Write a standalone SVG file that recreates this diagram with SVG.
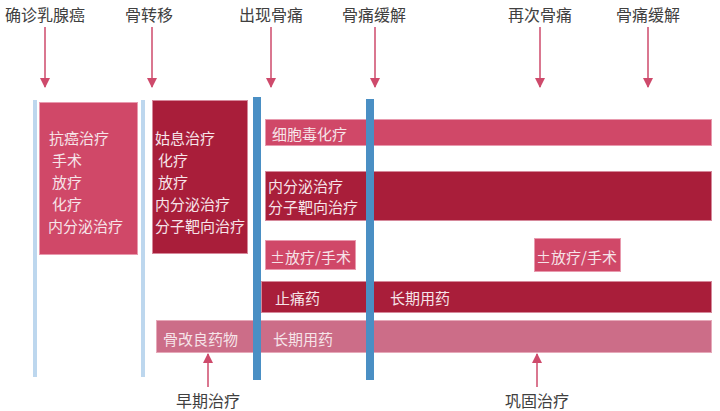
<svg xmlns="http://www.w3.org/2000/svg" width="720" height="411" viewBox="0 0 720 411">
<style>
.lbl{font-family:"Noto Sans CJK SC","Noto Sans",sans-serif;font-size:16px;fill:#404040;text-anchor:middle;dominant-baseline:central}
.bt{font-family:"Noto Sans CJK SC","Noto Sans",sans-serif;font-size:15px;fill:#F6E4E9;dominant-baseline:central}
.pink{fill:#D04868;stroke:#E89AAE;stroke-width:1}
.dark{fill:#A91E3A;stroke:#D6899B;stroke-width:1}
.light{fill:#CC6D88;stroke:#E6A9B9;stroke-width:1}
.lb{fill:#BDD7EE}
.blue{fill:#4A8FC4}
.arr{stroke:#CE4A6B;stroke-width:1.5;fill:none}
</style>
<defs>
<marker id="ah" markerWidth="10" markerHeight="10" refX="9" refY="5" orient="auto" markerUnits="userSpaceOnUse">
<path d="M0,0 L10,5 L0,10 Z" fill="#CE4A6B"/>
</marker>
</defs>
<g id="timeline-labels">
<text class="lbl" x="45" y="14">确诊乳腺癌</text>
<text class="lbl" x="149" y="14">骨转移</text>
<text class="lbl" x="271" y="14">出现骨痛</text>
<text class="lbl" x="374" y="14">骨痛缓解</text>
<text class="lbl" x="540" y="14">再次骨痛</text>
<text class="lbl" x="648" y="14">骨痛缓解</text>
</g>
<g id="bars">
<rect class="lb" x="33" y="100" width="4" height="277"/>
<rect class="lb" x="141" y="100" width="4" height="277"/>
</g>
<g id="box-initial">
<rect class="pink" x="39.5" y="102.5" width="98" height="152"/>
<text class="bt" x="49" y="137">抗癌治疗</text>
<text class="bt" x="52" y="159">手术</text>
<text class="bt" x="52" y="181">放疗</text>
<text class="bt" x="52" y="203">化疗</text>
<text class="bt" x="48" y="225">内分泌治疗</text>
</g>
<g id="box-palliative">
<rect class="dark" x="152.5" y="100.5" width="95" height="153"/>
<text class="bt" x="155" y="137">姑息治疗</text>
<text class="bt" x="158" y="159">化疗</text>
<text class="bt" x="158" y="181">放疗</text>
<text class="bt" x="155" y="203">内分泌治疗</text>
<text class="bt" x="155" y="225">分子靶向治疗</text>
</g>
<g id="row-chemo">
<rect class="pink" x="265.5" y="119.5" width="446" height="26"/>
<text class="bt" x="272" y="133">细胞毒化疗</text>
</g>
<g id="row-endocrine">
<rect class="dark" x="265.5" y="171.5" width="446" height="49"/>
<text class="bt" x="268" y="185">内分泌治疗</text>
<text class="bt" x="268" y="206">分子靶向治疗</text>
</g>
<g id="row-rt1">
<rect class="pink" x="265.5" y="240.5" width="90" height="29"/>
<text class="bt" x="270" y="256">±放疗/手术</text>
</g>
<g id="row-rt2">
<rect class="pink" x="534.5" y="238.5" width="86" height="33"/>
<text class="bt" x="536" y="256">±放疗/手术</text>
</g>
<g id="row-analgesic">
<rect class="dark" x="261.5" y="281.5" width="450" height="31"/>
<text class="bt" x="275" y="297.5">止痛药</text>
<text class="bt" x="390" y="297.5">长期用药</text>
</g>
<g id="row-bone">
<rect class="light" x="156.5" y="320.5" width="555" height="32"/>
<text class="bt" x="163" y="338">骨改良药物</text>
<text class="bt" x="273" y="338">长期用药</text>
</g>
<g id="blue-bars">
<rect class="blue" x="253" y="97" width="8" height="283"/>
<rect class="blue" x="366" y="99" width="8" height="281"/>
</g>
<g id="connectors">
<line class="arr" x1="45" y1="27" x2="45" y2="87" marker-end="url(#ah)"/>
<line class="arr" x1="152" y1="27" x2="152" y2="87" marker-end="url(#ah)"/>
<line class="arr" x1="271" y1="27" x2="271" y2="87" marker-end="url(#ah)"/>
<line class="arr" x1="375" y1="27" x2="375" y2="87" marker-end="url(#ah)"/>
<line class="arr" x1="540" y1="27" x2="540" y2="87" marker-end="url(#ah)"/>
<line class="arr" x1="648" y1="27" x2="648" y2="87" marker-end="url(#ah)"/>
<line class="arr" x1="208" y1="387" x2="208" y2="354" marker-end="url(#ah)"/>
<line class="arr" x1="537" y1="387" x2="537" y2="354" marker-end="url(#ah)"/>
</g>
<g id="bottom-labels">
<text class="lbl" x="208" y="400">早期治疗</text>
<text class="lbl" x="537" y="400">巩固治疗</text>
</g>
</svg>
